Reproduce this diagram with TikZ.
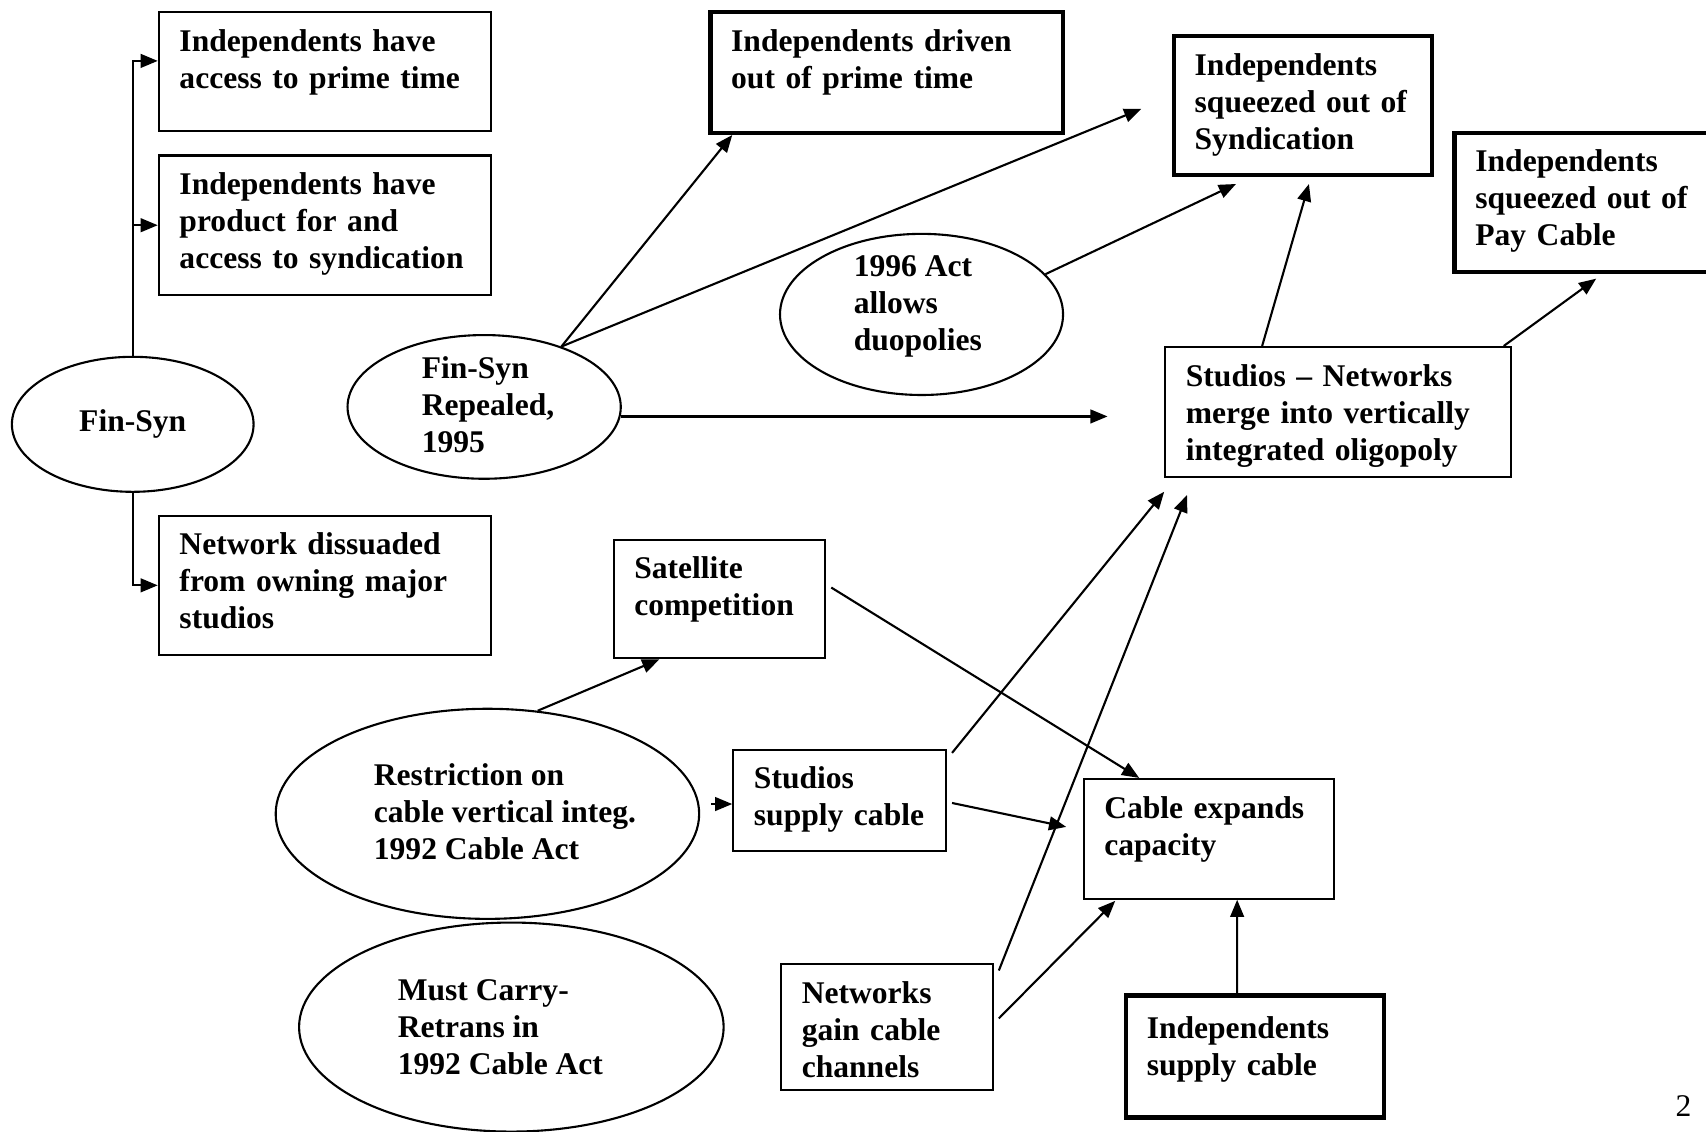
\documentclass[tikz,border=0pt]{standalone}
\usepackage{fontspec}
\setmainfont{Liberation Serif}
\usepackage{tikz}
\usetikzlibrary{arrows.meta, shapes.geometric, calc}

\hyphenpenalty=10000
\exhyphenpenalty=10000

\newcommand{\diagfont}{\fontsize{8.25}{9.67}\selectfont\bfseries}

\tikzset{
	box/.style={draw, line width=0.55pt, anchor=north west, align=left, inner xsep=0.19cm, inner ysep=0pt, text height=0.36cm},
	heavybox/.style={box, line width=1.15pt},
	oval/.style={draw, ellipse, line width=0.55pt, inner sep=0pt},
	caption/.style={align=left, inner sep=0pt, anchor=west},
	arr/.style={-{Triangle[length=4.5pt, width=3.6pt]}, line width=0.55pt}
}

\begin{document}
\begin{tikzpicture}[x=0.01cm, y=-0.01cm, every node/.append style={font=\diagfont}]

		\useasboundingbox (0,0) rectangle (1568,1040);

		% --- Fin-Syn and its effects ---
		\node[oval, minimum width=2.22cm, minimum height=1.24cm] (finsyn) at (122,390) {Fin-Syn};

		\node[box, text width=2.67cm, text depth=0.73cm] (prime) at (145,10) {Independents have\\access to prime time};
		\node[box, text width=2.67cm, text depth=0.92cm] (access) at (145,142) {Independents have\\product for and\\access to syndication};
		\node[box, text width=2.67cm, text depth=0.92cm] (dissuade) at (145,473) {Network dissuaded\\from owning major\\studios};

		\draw[arr] (finsyn.north) |- ([yshift=0.095cm]prime.west);
		\draw[arr] (finsyn.north |- access.west) -- (access.west);
		\draw[arr] (finsyn.south) |- (dissuade.west);

		% --- Repeal and the 1996 Act ---
		\node[oval, minimum width=2.51cm, minimum height=1.32cm] (repealed) at (445,374) {};
		\node[caption] (repealed-t) at ([xshift=0.685cm, yshift=0.02cm]repealed.west) {Fin-Syn\\Repealed,\\1995};

		\node[oval, minimum width=2.6cm, minimum height=1.48cm] (duopoly) at (847,289) {};
		\node[caption] (duopoly-t) at ([xshift=0.68cm, yshift=0.07cm]duopoly.west) {1996 Act\\allows\\duopolies};

		\node[heavybox, text width=2.86cm, text depth=0.75cm] (driven) at (651,9) {Independents driven\\out of prime time};
		\node[heavybox, text width=1.99cm, text depth=0.92cm] (synd) at (1077,31) {Independents\\squeezed out of\\Syndication};
		\node[heavybox, text width=2.2cm, text depth=0.92cm] (pay) at (1335,120) {Independents\\squeezed out of\\Pay Cable};
		\node[box, text width=2.8cm, text depth=0.83cm] (merge) at (1070,318) {Studios -- Networks\\merge into vertically\\integrated oligopoly};

		\coordinate (synd-in) at ([xshift=-0.28cm, yshift=-0.03cm]synd.west);

		\draw[arr] (repealed.38) -- ([xshift=0.22cm]driven.south west);
		\draw[arr] (repealed.38) -- (synd-in);
		\draw[arr] (repealed.-4) -- ([xshift=-0.52cm]merge.west |- repealed.-4);
		\draw[arr] (duopoly.18) -- ([xshift=0.59cm, yshift=-0.06cm]synd.south west);
		\draw[arr] ([xshift=0.9cm]merge.north west) -- ([xshift=1.26cm, yshift=-0.06cm]synd.south west);
		\draw[arr] ([xshift=-0.08cm]merge.north east) -- ([xshift=1.32cm, yshift=-0.04cm]pay.south west);

		% --- Cable side ---
		\node[oval, minimum width=3.89cm, minimum height=1.93cm] (restrict) at (448,748) {};
		\node[caption] (restrict-t) at ([xshift=0.905cm, yshift=0.02cm]restrict.west) {Restriction on\\cable vertical integ.\\1992 Cable Act};

		\node[oval, minimum width=3.9cm, minimum height=1.92cm] (mustcarry) at (470,944) {};
		\node[caption] (mustcarry-t) at ([xshift=0.91cm]mustcarry.west) {Must Carry-\\Retrans in\\1992 Cable Act};

		\node[box, text width=1.56cm, text depth=0.73cm] (sat) at (563,495) {Satellite\\competition};
		\node[box, text width=1.57cm, text depth=0.57cm] (supply) at (673,688) {Studios\\supply cable};
		\node[box, text width=1.92cm, text depth=0.74cm] (cable) at (995,715) {Cable expands\\capacity};
		\node[box, text width=1.57cm, text depth=0.8cm] (netw) at (717,885) {Networks\\gain cable\\channels};
		\node[heavybox, text width=1.99cm, text height=0.39cm, text depth=0.73cm] (isupply) at (1033,913) {Independents\\supply cable};

		\draw[arr] (restrict.64) -- ([xshift=0.43cm]sat.south west);
		\draw[arr] ([xshift=0.1cm, yshift=0.09cm]restrict.east) -- ([yshift=0.09cm]restrict.east -| supply.west);
		\draw[arr] ([xshift=0.05cm, yshift=-0.45cm]sat.north east) -- ([xshift=0.52cm]cable.north west);
		\draw[arr] ([xshift=0.05cm, yshift=-0.04cm]supply.north east) -- ([yshift=-0.13cm]merge.south west);
		\draw[arr] ([xshift=0.05cm, yshift=-0.5cm]supply.north east) -- ([xshift=-0.15cm, yshift=-0.45cm]cable.north west);
		\draw[arr] ([xshift=0.04cm, yshift=-0.07cm]netw.north east) -- ([xshift=0.21cm, yshift=-0.16cm]merge.south west);
		\draw[arr] ([xshift=0.04cm, yshift=-0.51cm]netw.north east) -- ([xshift=0.3cm, yshift=-0.01cm]cable.south west);
		\draw[arr] ([xshift=1.04cm]isupply.north west) -- ([xshift=1.42cm]cable.south west);

		% page number
		\node[anchor=east, font=\diagfont\mdseries] (pagenum) at (1567,1017) {2};

	\end{tikzpicture}
\end{document}
